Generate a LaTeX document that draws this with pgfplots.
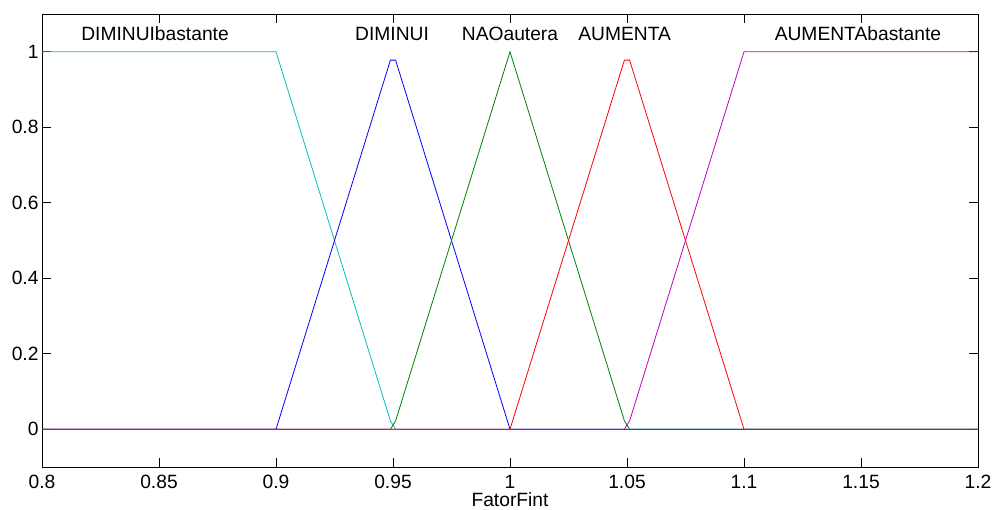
\documentclass[border=0pt]{standalone}
\usepackage{fontspec}
\setmainfont{Liberation Sans}
\usepackage{pgfplots}
\pgfplotsset{compat=1.18}
\definecolor{mcyan}{rgb}{0,0.75,0.75}
\definecolor{mgreen}{rgb}{0,0.5,0}
\definecolor{mmag}{rgb}{0.75,0,0.75}
\begin{document}
\begin{tikzpicture}[x=1bp,y=1bp]
\path[use as bounding box] (-42bp,-43bp) rectangle (952bp,467bp);
\begin{axis}[
  at={(0,0)}, anchor=south west,
  scale only axis, width=936bp, height=453bp,
  xmin=0.8, xmax=1.2, ymin=-0.1, ymax=1.1,
  xtick={0.8,0.85,...,1.2}, ytick={0,0.2,0.4,0.6,0.8,1},
  xticklabels={0.8,0.85,0.9,0.95,1,1.05,1.1,1.15,1.2},
  yticklabels={0,0.2,0.4,0.6,0.8,1},
  tick align=inside, major tick length=9bp,
  every tick/.style={black, line width=0.6bp},
  axis line style={line width=0.8bp},
  ticklabel style={font=\fontsize{19.3}{22}\selectfont},
  xticklabel style={yshift=-5bp},
  /pgf/number format/assume math mode=true,
  xlabel={FatorFint}, xlabel style={font=\fontsize{19.3}{22}\selectfont, yshift=3bp},
  every axis plot/.append style={line width=0.8bp},
  clip=true,
]
\addplot[mcyan] coordinates {(0.8,1)(0.9,1)(0.94889,0.0222)(0.95111,0)(1.2,0)};
\addplot[blue] coordinates {(0.8,0)(0.9,0)(0.94889,0.9778)(0.95111,0.9778)(1.0,0)(1.2,0)};
\addplot[mgreen] coordinates {(0.8,0)(0.94889,0)(0.95111,0.0222)(1.0,1)(1.04889,0.0222)(1.05111,0)(1.2,0)};
\addplot[red] coordinates {(0.8,0)(1.0,0)(1.04889,0.9778)(1.05111,0.9778)(1.1,0)(1.2,0)};
\addplot[mmag] coordinates {(0.8,0)(1.04889,0)(1.05111,0.0222)(1.1,1)(1.2,1)};
\node[font=\fontsize{19.3}{22}\selectfont] at (axis cs:0.8483,1.047) {DIMINUIbastante};
\node[font=\fontsize{19.3}{22}\selectfont] at (axis cs:0.9496,1.047) {DIMINUI};
\node[font=\fontsize{19.3}{22}\selectfont] at (axis cs:1.0,1.047) {NAOautera};
\node[font=\fontsize{19.3}{22}\selectfont] at (axis cs:1.049,1.047) {AUMENTA};
\node[font=\fontsize{19.3}{22}\selectfont] at (axis cs:1.1487,1.047) {AUMENTAbastante};
\end{axis}
\end{tikzpicture}
\end{document}
